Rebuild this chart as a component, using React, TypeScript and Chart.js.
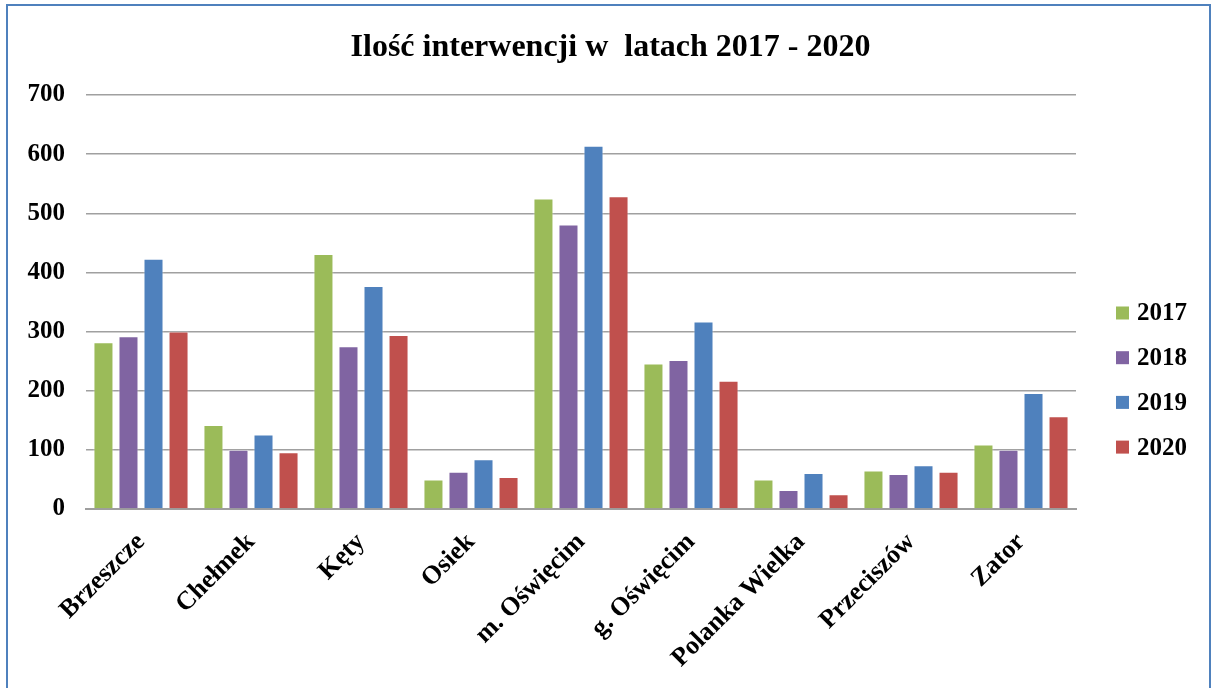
import React, { useEffect, useRef } from "react";
import { Chart, registerables } from "chart.js";

Chart.register(...registerables);

const categories = [
  "Brzeszcze",
  "Chełmek",
  "Kęty",
  "Osiek",
  "m. Oświęcim",
  "g. Oświęcim",
  "Polanka Wielka",
  "Przeciszów",
  "Zator",
];

const seriesNames = ["2017", "2018", "2019", "2020"];
const values2017 = [282, 142, 431, 50, 525, 246, 50, 65, 109];
const values2018 = [292, 100, 275, 63, 481, 252, 32, 59, 100];
const values2019 = [423, 126, 377, 84, 614, 317, 61, 74, 196];
const values2020 = [300, 96, 294, 54, 529, 217, 25, 63, 157];
const seriesColors = ["#9BBB59", "#8064A2", "#4F81BD", "#C0504D"];

const titleText = "Ilość interwencji w  latach 2017 - 2020";
const yMin = 0;
const yMax = 700;
const yStep = 100;

const FONT = "'Liberation Serif', 'Times New Roman', serif";

const titleAndLegendPlugin = {
  id: "titleAndLegend",
  afterDraw(chart: any) {
    const ctx = chart.ctx;
    ctx.save();
    // title
    ctx.font = `bold 32px ${FONT}`;
    ctx.fillStyle = "#000";
    ctx.textAlign = "center";
    ctx.textBaseline = "middle";
    ctx.fillText(titleText, chart.width / 2 + 2, 42);
    // legend
    const ds = chart.data.datasets;
    const startY = 307;
    const step = 44.7;
    const boxX = 1108;
    const box = 13;
    ctx.font = `bold 25px ${FONT}`;
    ctx.textAlign = "left";
    ds.forEach((d: any, i: number) => {
      const cy = startY + i * step;
      ctx.fillStyle = d.backgroundColor;
      ctx.fillRect(boxX, cy - box / 2, box, box);
      ctx.fillStyle = "#000";
      ctx.fillText(d.label, boxX + 21, cy + 1);
    });
    ctx.restore();
  },
};

export default function App() {
  const ref = useRef<HTMLCanvasElement | null>(null);

  useEffect(() => {
    if (!ref.current) return;
    const allValues = [values2017, values2018, values2019, values2020];
    const chart = new Chart(ref.current, {
      type: "bar",
      data: {
        labels: categories,
        datasets: seriesNames.map((name, i) => ({
          label: name,
          data: allValues[i],
          backgroundColor: seriesColors[i],
          borderColor: "rgba(255,255,255,0.45)",
          borderWidth: 1,
          barPercentage: 0.8,
          categoryPercentage: 0.91,
        })),
      },
      options: {
        animation: false,
        responsive: false,
        maintainAspectRatio: false,
        layout: { padding: { left: 0, right: 133, top: 89, bottom: 0 } },
        plugins: {
          legend: { display: false },
          tooltip: { enabled: false },
          title: { display: false },
        },
        scales: {
          x: {
            grid: { display: false },
            border: { display: true, color: "#9E9E9E", width: 2 },
            ticks: {
              autoSkip: false,
              minRotation: 45,
              maxRotation: 45,
              padding: 10,
              color: "#000",
              font: { family: FONT, size: 26, weight: "bold" },
            },
            afterFit: (scale: any) => {
              scale.height = 179;
            },
          },
          y: {
            min: yMin,
            max: yMax,
            grid: { color: "#A0A0A0", lineWidth: 1.5, drawTicks: false },
            border: { display: false },
            ticks: {
              stepSize: yStep,
              padding: 21,
              color: "#000",
              font: { family: FONT, size: 25, weight: "bold" },
            },
            afterFit: (scale: any) => {
              scale.width = 78;
            },
          },
        },
      },
      plugins: [titleAndLegendPlugin],
    });
    return () => chart.destroy();
  }, []);

  return (
    <div
      style={{
        position: "fixed",
        left: 6,
        top: 4,
        width: 1205,
        height: 700,
        border: "2px solid #4F81BD",
        boxSizing: "border-box",
        background: "#fff",
      }}
    >
      <canvas ref={ref} width={1201} height={682} style={{ display: "block" }} />
    </div>
  );
}
